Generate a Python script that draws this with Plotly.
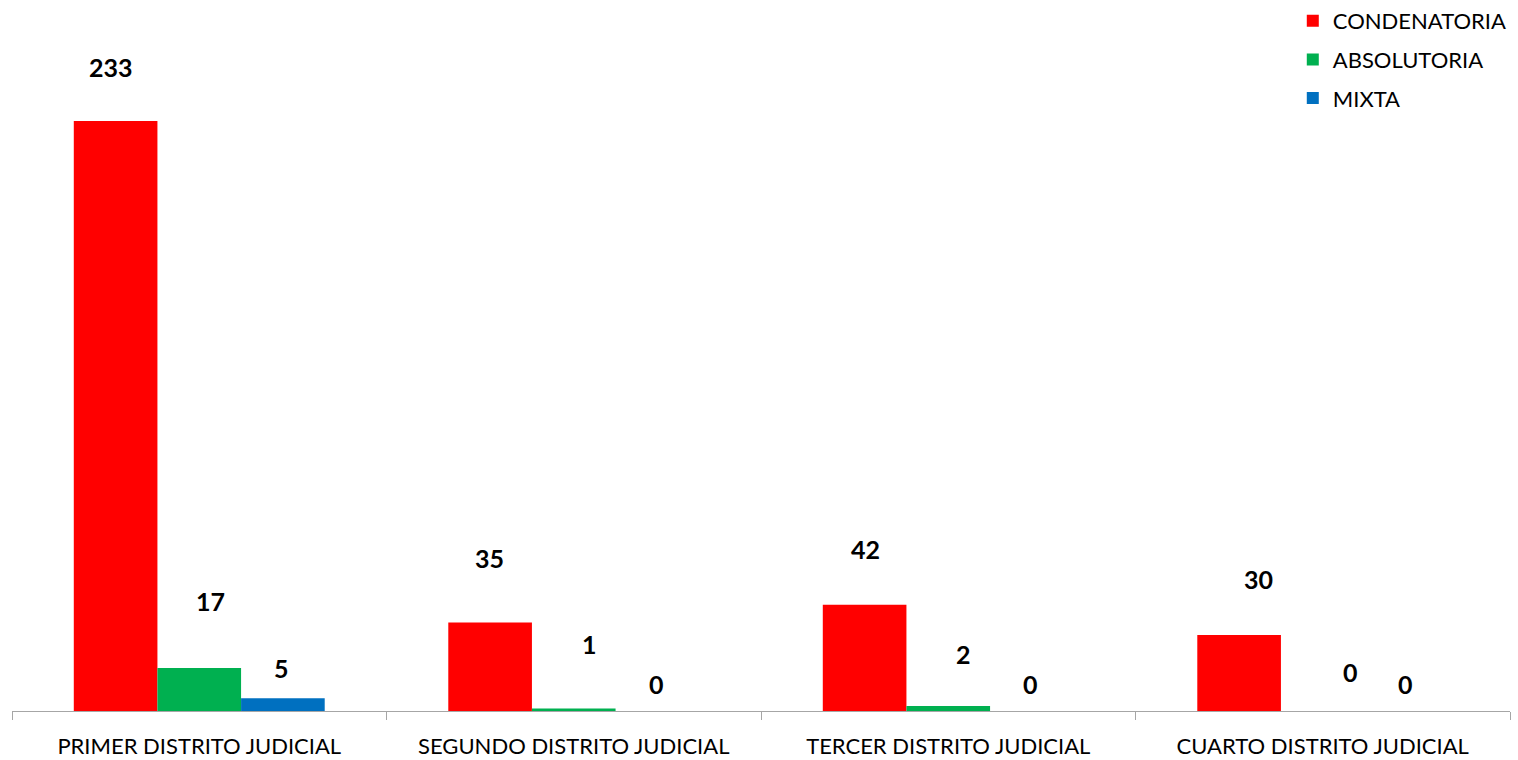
import plotly.graph_objects as go

districts = ["PRIMER DISTRITO JUDICIAL", "SEGUNDO DISTRITO JUDICIAL",
             "TERCER DISTRITO JUDICIAL", "CUARTO DISTRITO JUDICIAL"]
series_names = ["CONDENATORIA", "ABSOLUTORIA", "MIXTA"]
condenatoria = [233, 35, 42, 30]
absolutoria = [17, 1, 2, 0]
mixta = [5, 0, 0, 0]
colors = ["#FF0000", "#00B050", "#0070C0"]

# label placement tweaks (pixels), per series per district
label_dx = [[-5, -1, 1, 19], [11, 16, 15, 28], [-1, -1, -1, -1]]
label_dy = [[54, 64, 56, 56], [67, 64, 52, 39], [30, 27, 27, 27]]

values = [condenatoria, absolutoria, mixta]
FONT = "Lato"

fig = go.Figure()
for i, (name, vals) in enumerate(zip(series_names, values)):
    fig.add_trace(go.Bar(
        x=districts, y=vals, name=name, marker_color=colors[i],
        marker_line_width=0, legendgroup=name,
    ))

bargap = 0.33
bw = (1 - bargap) / 3
annotations = []
for i, vals in enumerate(values):
    off = -((1 - bargap) / 2) + bw * (i + 0.5)
    for j, v in enumerate(vals):
        annotations.append(dict(
            x=j + off, y=v, xref="x", yref="y", text=f"<b>{v}</b>",
            showarrow=False, xanchor="center", yanchor="middle",
            xshift=label_dx[i][j], yshift=label_dy[i][j],
            font=dict(family=FONT, size=25, color="black"),
        ))

fig.update_layout(
    width=1518, height=760,
    margin=dict(l=12, r=8, t=0, b=49),
    plot_bgcolor="white", paper_bgcolor="white",
    barmode="group", bargap=bargap, bargroupgap=0,
    font=dict(family=FONT, size=22, color="black"),
    showlegend=True,
    legend=dict(
        xref="paper", yref="paper",
        x=0.855, y=1.0, xanchor="left", yanchor="top",
        traceorder="grouped", tracegroupgap=7,
        font=dict(family=FONT, size=22, color="black"),
        bgcolor="rgba(0,0,0,0)",
    ),
    annotations=annotations,
)
fig.update_xaxes(
    type="category", range=[-0.5, 3.5], automargin=False,
    showline=True, linecolor="#A6A6A6", linewidth=1.3,
    ticks="outside", tickson="boundaries", ticklen=8, tickcolor="#A6A6A6",
    tickwidth=1.3, showgrid=False, ticklabelstandoff=15,
    tickfont=dict(family=FONT, size=22, color="black"),
)
fig.update_yaxes(range=[0, 280.8], visible=False, showgrid=False, zeroline=False)

fig.write_html("out.html", config={"displayModeBar": False},
               post_script="document.body.style.margin='0px';")
